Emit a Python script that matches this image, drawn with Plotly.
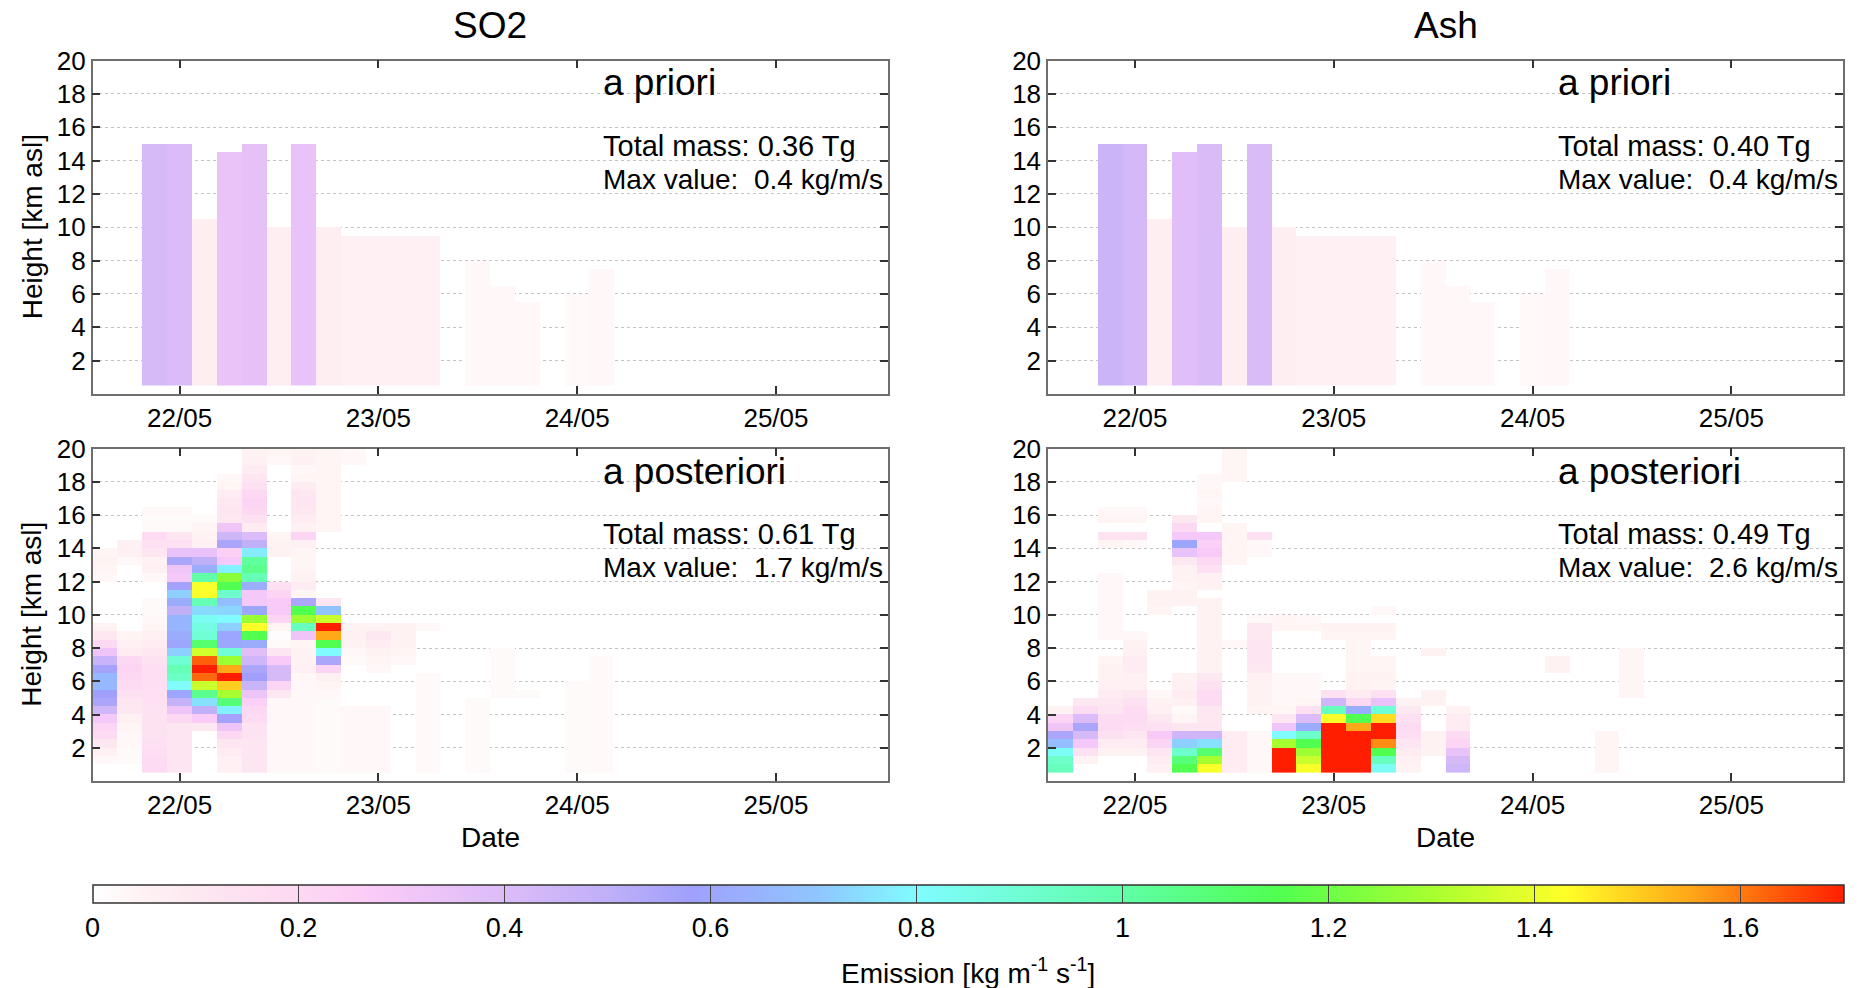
import numpy as np
import pandas as pd
import plotly.graph_objects as go

W, H = 1861, 988
FONT = "Liberation Sans, Arial, sans-serif"

# ---------------- data ----------------
# 3-hourly emission time columns (centres) and 0.5 km height rows (centres)
times = pd.date_range("2011-05-21 15:00", "2011-05-25 12:00", freq="3h")
heights = np.arange(0.75, 20.0, 0.5)
date_ticks = ["2011-05-22", "2011-05-23", "2011-05-24", "2011-05-25"]
date_labels = ["22/05", "23/05", "24/05", "25/05"]
cbar_ticks = [0, 0.2, 0.4, 0.6, 0.8, 1.0, 1.2, 1.4, 1.6]
cbar_labels = ["0", "0.2", "0.4", "0.6", "0.8", "1", "1.2", "1.4", "1.6"]

# a priori: columns emitting from 0.5 km up to a top height, with one value
prior_cols = [2, 3, 4, 5, 6, 7, 8, 9, 10, 11, 12, 13, 15, 16, 17, 19, 20]
prior_tops = [15, 15, 10.5, 14.5, 15, 10, 15, 10, 9.5, 9.5, 9.5, 9.5, 8, 6.5, 5.5, 6, 7.5]
so2_prior_vals = [0.42, 0.40, 0.07, 0.34, 0.36, 0.07, 0.35, 0.07, 0.06, 0.06, 0.06, 0.06,
                  0.03, 0.03, 0.03, 0.025, 0.03]
ash_prior_vals = [0.46, 0.43, 0.07, 0.38, 0.41, 0.07, 0.41, 0.07, 0.06, 0.06, 0.06, 0.06,
                  0.03, 0.03, 0.03, 0.025, 0.03]

# a posteriori: column -> (lowest km, values upward in 0.5 km steps)
so2_post = {
    0: (1.0, [0.03, 0.06, 0.1, 0.18, 0.22, 0.3, 0.45, 0.55, 0.58, 0.66, 0.66, 0.57, 0.47, 0.32, 0.2, 0.1, 0.05,
              0, 0, 0, 0, 0, 0.03, 0.04, 0.05, 0.04]),
    1: (1.0, [0.02, 0.02, 0.03, 0.03, 0.04, 0.06, 0.1, 0.12, 0.15, 0.18, 0.2, 0.22, 0.2, 0.08, 0.06, 0.04,
              0, 0, 0, 0, 0, 0, 0, 0, 0.03, 0.06, 0.06]),
    2: (0.5, [0.18, 0.18, 0.16, 0.15, 0.14, 0.14, 0.14, 0.14, 0.15, 0.15, 0.16, 0.16, 0.16, 0.14, 0.1, 0.08,
              0.06, 0.04, 0.03, 0.02, 0.02, 0, 0, 0.03, 0.06, 0.05, 0.12, 0.15, 0.18, 0.02, 0.02, 0.03]),
    3: (0.5, [0.12, 0.12, 0.12, 0.12, 0.12, 0.12, 0.2, 0.32, 0.48, 0.6, 0.8, 0.93, 0.97, 0.9, 0.72, 0.6,
              0.62, 0.65, 0.65, 0.5, 0.62, 0.72, 0.57, 0.3, 0.32, 0.55, 0.35, 0.15, 0.12, 0.02, 0.02, 0.03]),
    4: (3.0, [0.1, 0.27, 0.5, 0.75, 1.05, 1.35, 1.62, 1.7, 1.63, 1.36, 1.1, 0.9, 0.87, 0.83, 0.74, 0.97,
              1.42, 1.42, 1.0, 0.62, 0.5, 0.35, 0.06, 0.05, 0.04, 0.02]),
    5: (0.5, [0.06, 0.06, 0.08, 0.12, 0.2, 0.32, 0.57, 0.78, 1.08, 1.3, 1.5, 1.7, 1.55, 1.28, 0.9, 0.6,
              0.6, 0.72, 0.8, 0.73, 0.68, 0.92, 1.15, 1.25, 0.78, 0.3, 0.25, 0.55, 0.45, 0.32, 0.1, 0.12,
              0.1, 0.08, 0.04, 0.03]),
    6: (0.5, [0.12, 0.12, 0.12, 0.12, 0.13, 0.14, 0.18, 0.2, 0.25, 0.33, 0.47, 0.58, 0.55, 0.45, 0.38, 0.62,
              1.15, 1.43, 1.27, 0.6, 0.3, 0.3, 0.63, 0.97, 1.05, 1.02, 0.77, 0.5, 0.4, 0.08, 0.15, 0.2,
              0.22, 0.2, 0.15, 0.12, 0.08, 0.06, 0.05]),
    7: (0.5, [0.03] * 9 + [0.1, 0.22, 0.42, 0.42, 0.28, 0.12, 0.02, 0.01, 0.04, 0.22, 0.28, 0.28, 0.22, 0.15,
                           0, 0, 0, 0.05, 0.05, 0.04, 0, 0, 0, 0, 0, 0, 0, 0, 0.03, 0.04]),
    8: (0.5, [0.03] * 12 + [0.06, 0.05, 0.05, 0.04, 0.32, 0.95, 1.28, 1.15, 0.55, 0.04, 0.08, 0.05, 0.04,
                            0.04, 0.04, 0.06, 0.22, 0.06, 0.08, 0.1, 0.12, 0.1, 0.08, 0.04, 0.03, 0.06, 0.05]),
    9: (0.5, [0.02] * 9 + [0.03, 0.04, 0.06, 0.22, 0.55, 0.8, 1.15, 1.55, 1.7, 1.35, 0.7, 0.12]
        + [0] * 8 + [0.04] * 10),
    10: (0.5, [0.03] * 8 + [0] * 5 + [0.02, 0.03, 0.05, 0.06, 0.05] + [0] * 19 + [0.03, 0.03]),
    11: (0.5, [0.03] * 8 + [0] * 4 + [0.03, 0.04, 0.05, 0.08, 0.1, 0.05]),
    12: (7.0, [0.03, 0.04, 0.05, 0.05, 0.05]),
    13: (0.5, [0.025] * 12 + [0] * 5 + [0.03]),
    15: (0.5, [0.02] * 9),
    16: (5.0, [0.02] * 6),
    17: (5.0, [0.02]),
    19: (0.5, [0.02] * 11),
    20: (0.5, [0.025] * 14),
}

ash_post = {
    0: (0.5, [0.95, 0.92, 0.82, 0.68, 0.55, 0.32, 0.22, 0.05]),
    1: (1.0, [0.05, 0.15, 0.3, 0.42, 0.55, 0.4, 0.18, 0.1]),
    2: (1.5, [0.05, 0.08, 0.15, 0.18, 0.18, 0.12, 0.1, 0.08, 0.06, 0.05, 0.05, 0.04, 0, 0,
              0.03, 0.03, 0.03, 0.03, 0.03, 0.03, 0.03, 0.03, 0, 0, 0, 0.04, 0.13, 0, 0.04, 0.03]),
    3: (1.5, [0.05, 0.08, 0.1, 0.16, 0.18, 0.18, 0.15, 0.1, 0.06, 0.06, 0.08, 0.08, 0.06, 0.05, 0.03]
        + [0] * 10 + [0.03, 0.13, 0, 0.04, 0.03]),
    4: (0.5, [0.06, 0.08, 0.12, 0.22, 0.28, 0.15, 0.1, 0.06, 0.05, 0.03] + [0] * 9 + [0.04, 0.05, 0.05]),
    5: (0.5, [1.15, 1.08, 0.92, 0.72, 0.45, 0.12, 0.04, 0.02, 0.06, 0.08, 0.06, 0.05] + [0] * 8
        + [0.05, 0.05, 0.04, 0.05, 0.05, 0.1, 0.35, 0.6, 0.3, 0.2, 0.1]),
    6: (0.5, [1.42, 1.3, 1.1, 0.75, 0.45, 0.12, 0.1, 0.1, 0.18, 0.18, 0.15, 0.1] + [0.05] * 9
        + [0, 0.05, 0.06, 0.15, 0.2, 0.28, 0.25, 0.3, 0, 0.04, 0.04, 0.03, 0.04, 0.03, 0.03]),
    7: (0.5, [0.08] * 5 + [0] * 10 + [0.03] + [0] * 9 + [0.04] * 5 + [0] * 5 + [0.04] * 4),
    8: (0.5, [0.03] * 5 + [0, 0] + [0.04, 0.05, 0.05, 0.05, 0.06, 0.1, 0.12, 0.12, 0.12, 0.1, 0.1, 0.03]
        + [0] * 7 + [0.03, 0.03, 0.15]),
    9: (0.5, [1.7, 1.7, 1.7, 1.3, 0.8, 0.32, 0.12, 0.04, 0.03, 0.03, 0.03, 0.03] + [0] * 5 + [0.04, 0.04]),
    10: (0.5, [1.42, 1.35, 1.28, 1.15, 0.92, 0.62, 0.4, 0.15, 0.04, 0.03, 0.03, 0.03] + [0] * 5 + [0.04, 0.03]),
    11: (0.5, [1.7] * 6 + [1.42, 0.95, 0.45, 0.15] + [0] * 6 + [0.04, 0.05]),
    12: (0.5, [1.7] * 5 + [1.55, 1.15, 0.62, 0.2, 0.08, 0.05, 0.05, 0.04, 0.04, 0.04, 0.04, 0.04, 0.05]),
    13: (0.5, [0.82, 0.95, 1.15, 1.58, 1.7, 1.7, 1.48, 0.9, 0.35, 0.15, 0.04, 0.05, 0.04, 0.04, 0, 0,
               0.04, 0.05, 0, 0.03]),
    14: (0.5, [0.05, 0.06, 0.08, 0.12, 0.16, 0.18, 0.15, 0.1, 0.05]),
    15: (1.5, [0.05, 0.05, 0.05, 0, 0, 0, 0.05, 0.05, 0, 0, 0, 0, 0.05]),
    16: (0.5, [0.45, 0.42, 0.35, 0.22, 0.18, 0.08, 0.08, 0.05]),
    20: (6.5, [0.05, 0.05]),
    22: (0.5, [0.04] * 5),
    23: (5.0, [0.04] * 6),
}

panel_texts = {
    "so2_prior": ("a priori", "Total mass: 0.36 Tg", "Max value:\u00a0 0.4 kg/m/s"),
    "ash_prior": ("a priori", "Total mass: 0.40 Tg", "Max value:\u00a0 0.4 kg/m/s"),
    "so2_post": ("a posteriori", "Total mass: 0.61 Tg", "Max value:\u00a0 1.7 kg/m/s"),
    "ash_post": ("a posteriori", "Total mass: 0.49 Tg", "Max value:\u00a0 2.6 kg/m/s"),
}

# colour map of the figure (value in kg/m/s -> colour), range 0..1.7
cmap_vals = [0, 0.05, 0.1, 0.2, 0.27, 0.4, 0.5, 0.58, 0.7, 0.8, 1.0, 1.15, 1.3, 1.43, 1.55, 1.7]
cmap_cols = ["#ffffff", "#fff2f3", "#fde8f1", "#fdd8f2", "#fbcbf8", "#dcbcf8", "#c0b0f8", "#a0a0fc",
             "#90c4ff", "#80fcff", "#60ffa8", "#50ff50", "#a8ff30", "#ffff28", "#ffa818", "#ff1e00"]
CMAX = 1.7

# ---------------- build grids ----------------
NH, NT = len(heights), len(times)


def post_grid(profiles):
    z = np.full((NH, NT), np.nan)
    for col, (lo, vals) in profiles.items():
        r0 = int(round((lo - 0.5) / 0.5))
        for i, v in enumerate(vals):
            if v > 0:
                z[r0 + i, col] = v
    return z


def prior_grid(vals):
    z = np.full((NH, NT), np.nan)
    for c, top, v in zip(prior_cols, prior_tops, vals):
        n = int(round((top - 0.5) / 0.5))
        z[:n, c] = v
    return z


grids = {
    "so2_prior": prior_grid(so2_prior_vals),
    "ash_prior": prior_grid(ash_prior_vals),
    "so2_post": post_grid(so2_post),
    "ash_post": post_grid(ash_post),
}

# ---------------- layout geometry (pixels) ----------------
PX = {"L": (92.6, 887.8), "R": (1048.0, 1843.2)}
PY = {"T": (60.5, 394.0), "B": (448.6, 781.0)}
panels = [("so2_prior", "L", "T", ""), ("ash_prior", "R", "T", "2"),
          ("so2_post", "L", "B", "3"), ("ash_post", "R", "B", "4")]

fig = go.Figure()
colorscale = [[v / CMAX, c] for v, c in zip(cmap_vals, cmap_cols)]

layout = dict(
    template="none",
    width=W, height=H, margin=dict(l=0, r=0, t=0, b=0, pad=0), autosize=False,
    paper_bgcolor="white", plot_bgcolor="white",
    font=dict(family=FONT, color="black"),
    showlegend=False,
    coloraxis=dict(
        cmin=0, cmax=CMAX, colorscale=colorscale,
        colorbar=dict(
            orientation="h", x=92.6 / W, xanchor="left", y=1 - 885 / H, yanchor="top",
            len=(1843.2 - 92.6) / W, lenmode="fraction", thickness=18, thicknessmode="pixels",
            xpad=0, ypad=0, outlinewidth=1.5, outlinecolor="#333333",
            ticks="inside", ticklen=18, tickwidth=1.2, tickcolor="#444444",
            tickvals=cbar_ticks, ticktext=cbar_labels,
            tickfont=dict(family=FONT, size=27, color="black"),
        ),
    ),
)

axis_common = dict(showline=True, linecolor="#6e6e6e", linewidth=1.5, mirror="ticks",
                   ticks="inside", ticklen=8, tickwidth=1.5, tickcolor="#333333", automargin=False,
                   tickfont=dict(family=FONT, size=26, color="black"), zeroline=False)

annotations = []
for key, px, py, sfx in panels:
    fig.add_trace(go.Heatmap(x=times, y=heights, z=grids[key], coloraxis="coloraxis",
                             xaxis="x" + sfx, yaxis="y" + sfx, hoverongaps=False))
    x0, x1 = PX[px]
    y0, y1 = PY[py]
    layout["xaxis" + sfx] = dict(axis_common, domain=[x0 / W, x1 / W], anchor="y" + sfx, type="date",
                                 range=["2011-05-21 13:30", "2011-05-25 13:30"],
                                 tickvals=date_ticks, ticktext=date_labels, showgrid=False)
    layout["yaxis" + sfx] = dict(axis_common, domain=[1 - y1 / H, 1 - y0 / H], anchor="x" + sfx,
                                 range=[0, 20], tickvals=list(range(2, 21, 2)),
                                 showgrid=True, gridcolor="#c4c4c4", griddash="dot", gridwidth=1)
    label, mass, maxv = panel_texts[key]
    tx = 601 if px == "L" else 1556
    annotations.append(dict(text=label, x=tx / W, y=1 - (y0 + 22.5) / H, xref="paper", yref="paper",
                            xanchor="left", yanchor="middle", showarrow=False,
                            font=dict(family=FONT, size=37)))
    annotations.append(dict(text=mass, x=tx / W, y=1 - (y0 + 85.5) / H, xref="paper", yref="paper",
                            xanchor="left", yanchor="middle", showarrow=False,
                            font=dict(family=FONT, size=29)))
    annotations.append(dict(text=maxv, x=tx / W, y=1 - (y0 + 118.5) / H, xref="paper", yref="paper",
                            xanchor="left", yanchor="middle", showarrow=False,
                            font=dict(family=FONT, size=28)))
    if px == "L":
        annotations.append(dict(text="Height [km asl]", x=32 / W, y=1 - (y0 + y1) / 2 / H,
                                xref="paper", yref="paper", textangle=-90, showarrow=False,
                                xanchor="center", yanchor="middle", font=dict(family=FONT, size=28)))
    if py == "B":
        annotations.append(dict(text="Date", x=(x0 + x1) / 2 / W, y=1 - 837 / H, xref="paper",
                                yref="paper", showarrow=False, xanchor="center", yanchor="middle",
                                font=dict(family=FONT, size=28)))

for name, cx in (("SO2", 490), ("Ash", 1446)):
    annotations.append(dict(text=name, x=cx / W, y=1 - 26 / H, xref="paper", yref="paper",
                            showarrow=False, xanchor="center", yanchor="middle",
                            font=dict(family=FONT, size=37)))

annotations.append(dict(text="Emission [kg m<sup>-1</sup> s<sup>-1</sup>]", x=968 / W, y=1 - 971 / H,
                        xref="paper", yref="paper", showarrow=False, xanchor="center",
                        yanchor="middle", font=dict(family=FONT, size=28)))

layout["annotations"] = annotations
fig.update_layout(**layout)
fig.write_html("out.html")
